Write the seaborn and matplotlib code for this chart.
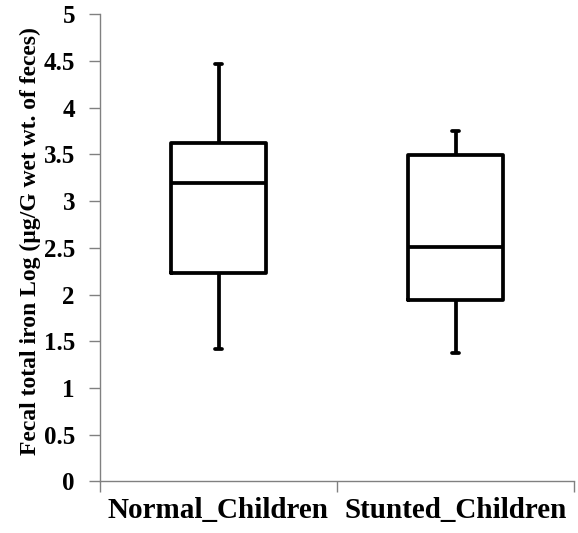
import numpy as np
import pandas as pd
import matplotlib
matplotlib.use("Agg")
import matplotlib.pyplot as plt
import seaborn as sns
from matplotlib.ticker import FixedLocator

# Data: five-number summaries (min, Q1, median, Q3, max)
categories = ["Normal_Children", "Stunted_Children"]
normal_values = [1.42, 2.23, 3.19, 3.625, 4.47]
stunted_values = [1.37, 1.94, 2.51, 3.49, 3.75]
y_ticks = [0, 0.5, 1, 1.5, 2, 2.5, 3, 3.5, 4, 4.5, 5]
y_tick_labels = ["0", "0.5", "1", "1.5", "2", "2.5", "3", "3.5", "4", "4.5", "5"]
y_label = "Fecal total iron Log (µg/G wet wt. of feces)"

df = pd.DataFrame({
    "group": [categories[0]] * len(normal_values) + [categories[1]] * len(stunted_values),
    "value": normal_values + stunted_values,
})

sns.set_theme(style="white")
plt.rcParams["font.family"] = ["Liberation Serif", "DejaVu Serif"]

fig = plt.figure(figsize=(5.78, 5.33), dpi=100)
ax = fig.add_axes([100 / 578, 1 - 481.3 / 533, 474 / 578, (481.3 - 14.3) / 533])

sns.boxplot(data=df, x="group", y="value", order=categories, ax=ax,
            fill=False, color="black", linecolor="black", linewidth=2.7,
            width=0.40, whis=(0, 100), capwidths=0.028, showfliers=False)

ax.set_xlim(-0.5, 1.5)
ax.set_ylim(0, 5)
ax.set_yticks(y_ticks)
ax.set_yticklabels(y_tick_labels, fontsize=18, fontweight="bold", color="black")
ax.set_xticks([0, 1])
ax.set_xticklabels(categories, fontsize=21, fontweight="bold", color="black")
ax.xaxis.set_minor_locator(FixedLocator([-0.5, 0.5, 1.5]))
ax.tick_params(axis="x", which="major", length=0, pad=11)
ax.tick_params(axis="x", which="minor", length=8, width=1, color="#808080", direction="out", bottom=True)
ax.tick_params(axis="y", which="major", length=8, width=1, color="#808080", direction="out", left=True, pad=10)

ax.set_xlabel("")
ax.set_ylabel(y_label, fontsize=17, fontweight="bold", color="black")
ax.yaxis.set_label_coords(-0.1245, 0.515)

for side in ["top", "right"]:
    ax.spines[side].set_visible(False)
for side in ["left", "bottom"]:
    ax.spines[side].set_color("#808080")
    ax.spines[side].set_linewidth(1)

fig.savefig("out.png", dpi=100, facecolor="white")
